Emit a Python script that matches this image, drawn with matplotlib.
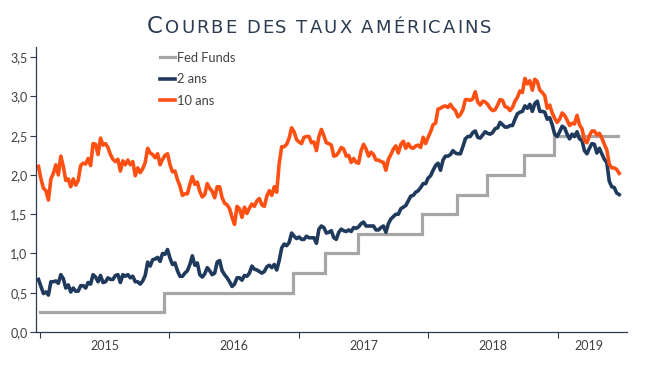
import matplotlib
matplotlib.use("Agg")
import matplotlib.pyplot as plt
import matplotlib.ticker as mticker
import numpy as np
import pandas as pd

# ---------------- data (weekly, Friday readings) ----------------
ten_2015 = [2.11, 1.95, 1.83, 1.80, 1.68, 1.95, 2.02, 2.13, 2.00, 2.24, 2.11, 1.93, 1.95,
            1.85, 1.95, 1.87, 1.93, 2.12, 2.15, 2.14, 2.21, 2.12, 2.40, 2.39, 2.26, 2.47,
            2.38, 2.40, 2.35, 2.26, 2.20, 2.17, 2.20, 2.05, 2.18, 2.13, 2.19, 2.13, 2.17,
            1.99, 2.09, 2.03, 2.08, 2.16, 2.34, 2.28, 2.26, 2.22, 2.27, 2.13, 2.20, 2.25]
ten_2016 = [2.27, 2.13, 2.04, 2.05, 1.94, 1.86, 1.74, 1.76, 1.76, 1.88, 1.98, 1.88, 1.91,
            1.79, 1.72, 1.75, 1.89, 1.83, 1.79, 1.71, 1.85, 1.85, 1.71, 1.64, 1.62, 1.57,
            1.46, 1.37, 1.60, 1.57, 1.46, 1.59, 1.51, 1.58, 1.63, 1.60, 1.67, 1.70, 1.62,
            1.60, 1.73, 1.80, 1.74, 1.85, 1.78, 2.15, 2.36, 2.36, 2.39, 2.47, 2.60, 2.55, 2.45]
ten_2017 = [2.42, 2.40, 2.48, 2.49, 2.49, 2.41, 2.42, 2.31, 2.49, 2.58, 2.50, 2.41, 2.40,
            2.38, 2.24, 2.25, 2.29, 2.35, 2.33, 2.24, 2.25, 2.16, 2.21, 2.16, 2.15, 2.31,
            2.39, 2.33, 2.24, 2.29, 2.26, 2.19, 2.19, 2.17, 2.16, 2.06, 2.20, 2.26, 2.33,
            2.37, 2.28, 2.39, 2.43, 2.34, 2.40, 2.35, 2.34, 2.37, 2.38, 2.35, 2.48, 2.40]
ten_2018 = [2.48, 2.55, 2.64, 2.66, 2.84, 2.85, 2.87, 2.88, 2.86, 2.90, 2.85, 2.82, 2.74,
            2.77, 2.83, 2.96, 2.96, 2.95, 2.97, 3.06, 2.93, 2.89, 2.94, 2.93, 2.90, 2.85,
            2.82, 2.83, 2.89, 2.96, 2.95, 2.87, 2.86, 2.82, 2.86, 2.94, 2.99, 3.07, 3.05,
            3.23, 3.16, 3.20, 3.08, 3.22, 3.19, 3.08, 3.05, 3.01, 2.85, 2.89, 2.79, 2.72]
ten_2019 = [2.67, 2.71, 2.79, 2.76, 2.70, 2.63, 2.66, 2.65, 2.76, 2.64, 2.59, 2.44, 2.41,
            2.50, 2.56, 2.56, 2.51, 2.53, 2.47, 2.39, 2.32, 2.14, 2.09, 2.09, 2.07, 2.02]

two_2015 = [0.67, 0.58, 0.49, 0.51, 0.47, 0.64, 0.64, 0.65, 0.62, 0.73, 0.68, 0.56, 0.60,
            0.51, 0.56, 0.52, 0.52, 0.59, 0.59, 0.56, 0.63, 0.61, 0.73, 0.70, 0.64, 0.72,
            0.63, 0.64, 0.69, 0.67, 0.67, 0.72, 0.73, 0.63, 0.73, 0.71, 0.73, 0.69, 0.71,
            0.64, 0.64, 0.61, 0.65, 0.72, 0.89, 0.84, 0.92, 0.93, 0.95, 0.90, 1.00, 0.99]
two_2016 = [1.05, 0.94, 0.86, 0.88, 0.78, 0.71, 0.71, 0.75, 0.78, 0.86, 0.97, 0.85, 0.88,
            0.73, 0.70, 0.74, 0.82, 0.78, 0.73, 0.75, 0.89, 0.91, 0.78, 0.73, 0.69, 0.64,
            0.58, 0.61, 0.69, 0.69, 0.66, 0.72, 0.71, 0.75, 0.84, 0.80, 0.79, 0.77, 0.75,
            0.77, 0.83, 0.85, 0.82, 0.86, 0.79, 0.91, 1.07, 1.12, 1.10, 1.14, 1.26, 1.22, 1.19]
two_2017 = [1.21, 1.18, 1.18, 1.22, 1.20, 1.20, 1.20, 1.13, 1.31, 1.35, 1.33, 1.26, 1.27,
            1.29, 1.20, 1.18, 1.27, 1.31, 1.29, 1.28, 1.30, 1.28, 1.33, 1.32, 1.34, 1.38,
            1.40, 1.35, 1.35, 1.35, 1.35, 1.30, 1.30, 1.33, 1.35, 1.27, 1.38, 1.44, 1.47,
            1.50, 1.50, 1.57, 1.59, 1.61, 1.67, 1.73, 1.74, 1.78, 1.80, 1.84, 1.89, 1.89]
two_2018 = [1.96, 1.99, 2.06, 2.12, 2.15, 2.06, 2.19, 2.24, 2.24, 2.26, 2.31, 2.28, 2.27,
            2.27, 2.36, 2.46, 2.49, 2.49, 2.54, 2.56, 2.48, 2.47, 2.51, 2.55, 2.53, 2.52,
            2.54, 2.59, 2.60, 2.67, 2.64, 2.61, 2.61, 2.63, 2.63, 2.71, 2.78, 2.80, 2.81,
            2.88, 2.85, 2.90, 2.81, 2.91, 2.94, 2.81, 2.81, 2.80, 2.71, 2.73, 2.64, 2.52]
two_2019 = [2.49, 2.55, 2.62, 2.60, 2.52, 2.46, 2.52, 2.49, 2.55, 2.46, 2.44, 2.31, 2.27,
            2.34, 2.40, 2.39, 2.28, 2.34, 2.27, 2.20, 2.16, 1.92, 1.85, 1.84, 1.77, 1.75]

fed_dates = ["2015-01-02", "2015-12-17", "2016-12-15", "2017-03-16", "2017-06-15",
             "2017-12-14", "2018-03-22", "2018-06-14", "2018-09-27", "2018-12-20",
             "2019-06-21"]
fed_levels = [0.25, 0.50, 0.75, 1.00, 1.25, 1.50, 1.75, 2.00, 2.25, 2.50, 2.50]

years = [2015, 2016, 2017, 2018, 2019]
y_ticks = [0.0, 0.5, 1.0, 1.5, 2.0, 2.5, 3.0, 3.5]
series_names = ["Fed Funds", "2 ans", "10 ans"]
title_first = "C"
title_rest = "OURBE DES TAUX AMÉRICAINS"

ten = ten_2015 + ten_2016 + ten_2017 + ten_2018 + ten_2019
two = two_2015 + two_2016 + two_2017 + two_2018 + two_2019
dates = pd.date_range("2015-01-02", periods=len(ten), freq="7D") - pd.Timedelta(days=5)
fed_d = pd.to_datetime(fed_dates)

# ---------------- style ----------------
C_ORANGE = "#FF5014"
C_NAVY = "#1F3A5C"
C_GREY = "#A6A6A6"
C_AXIS = "#2B3A4E"
C_TEXT = "#404040"
C_TITLE = "#2A3B52"
FONT = ["Lato", "DejaVu Sans"]

plt.rcParams["font.family"] = FONT

fig = plt.figure(figsize=(6.49, 3.65), dpi=100)
ax = fig.add_axes([36 / 649, 1 - 332 / 365, (627 - 36) / 649, (332 - 47) / 365])

ax.step(fed_d, fed_levels, where="post", color=C_GREY, lw=2.3, label=series_names[0],
        solid_joinstyle="miter")
ax.plot(dates, two, color=C_NAVY, lw=2.6, label=series_names[1])
ax.plot(dates, ten, color=C_ORANGE, lw=2.6, label=series_names[2])

ax.set_ylim(0, 3.63)
ax.set_xlim(pd.Timestamp("2014-12-21"), pd.Timestamp("2019-07-15"))

ax.set_yticks(y_ticks)
ax.yaxis.set_major_formatter(mticker.FuncFormatter(lambda v, p: f"{v:.1f}".replace(".", ",")))

major = [pd.Timestamp(f"{y}-01-01") for y in years]
minor = [pd.Timestamp(f"{y}-07-02") for y in years[:-1]]
minor.append(pd.Timestamp("2019-01-01") + (dates[-1] - pd.Timestamp("2019-01-01")) / 2)
ax.set_xticks(major)
ax.set_xticklabels([])
ax.set_xticks(minor, minor=True)
ax.set_xticklabels([str(y) for y in years], minor=True)
ax.tick_params(axis="x", which="minor", length=0, pad=6, labelsize=9, labelcolor=C_TEXT)
ax.tick_params(axis="x", which="major", length=4, width=0.8, color=C_AXIS, direction="out")
ax.tick_params(axis="y", length=4, width=0.8, color=C_AXIS, labelsize=9, labelcolor=C_TEXT, pad=2)

for s in ["top", "right"]:
    ax.spines[s].set_visible(False)
for s in ["left", "bottom"]:
    ax.spines[s].set_color(C_AXIS)
    ax.spines[s].set_linewidth(0.9)

leg = ax.legend(loc="upper left", bbox_to_anchor=(160 / 649, 1 - 52 / 365),
                bbox_transform=fig.transFigure, frameon=False, fontsize=9.3,
                handlelength=1.15, handletextpad=0.2, labelspacing=0.72,
                borderaxespad=0, borderpad=0)
for t in leg.get_texts():
    t.set_color(C_TEXT)

# ---------------- title in small caps with letter spacing ----------------
fig.canvas.draw()
r = fig.canvas.get_renderer()
W = fig.bbox.width
yb = 1 - 33 / 365
track = 2.0  # px between letters


def char_width(ch, size):
    a = fig.text(0, 0, "H" + ch + "H", fontsize=size, family=["DejaVu Sans"])
    b = fig.text(0, 0, "HH", fontsize=size, family=["DejaVu Sans"])
    w = a.get_window_extent(r).width - b.get_window_extent(r).width
    a.remove()
    b.remove()
    return w


pieces = [(title_first, 16.5)] + [(ch, 13.0) for ch in title_rest]
widths = [char_width(ch, s) for ch, s in pieces]
total = sum(widths) + track * (len(pieces) - 1)
x = 319 - total / 2
for (ch, s), w in zip(pieces, widths):
    if ch != " ":
        fig.text(x / W, yb, ch, fontsize=s, color=C_TITLE, family=["DejaVu Sans"],
                 va="baseline", ha="left")
    x += w + track

fig.savefig("out.png", dpi=100)
